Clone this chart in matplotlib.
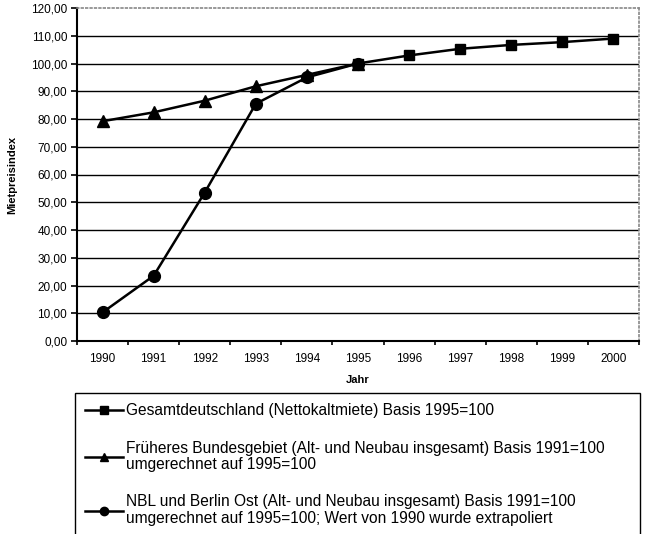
import matplotlib.pyplot as plt
from matplotlib.lines import Line2D

plt.rcParams['font.family'] = ['Liberation Sans', 'DejaVu Sans']

years = ['1990', '1991', '1992', '1993', '1994', '1995', '1996', '1997', '1998', '1999', '2000']

gesamt_years = [5, 6, 7, 8, 9, 10]
gesamt = [100.0, 102.9, 105.3, 106.7, 107.7, 109.0]

west_years = [0, 1, 2, 3, 4, 5]
west = [79.2, 82.4, 86.6, 91.8, 95.9, 100.0]

ost_years = [0, 1, 2, 3, 4, 5]
ost = [10.3, 23.5, 53.5, 85.5, 95.0, 100.0]

labels = ['Gesamtdeutschland (Nettokaltmiete) Basis 1995=100',
          'Früheres Bundesgebiet (Alt- und Neubau insgesamt) Basis 1991=100\numgerechnet auf 1995=100',
          'NBL und Berlin Ost (Alt- und Neubau insgesamt) Basis 1991=100\numgerechnet auf 1995=100; Wert von 1990 wurde extrapoliert']

fig = plt.figure(figsize=(6.45, 5.34), dpi=100)
ax = fig.add_axes([77 / 645, 1 - 341 / 534, 562 / 645, 333 / 534])

ax.plot(gesamt_years, gesamt, color='black', lw=1.8, marker='s', ms=7.5, zorder=4)
ax.plot(west_years, west, color='black', lw=1.8, marker='^', ms=8.5, zorder=3)
ax.plot(ost_years, ost, color='black', lw=1.8, marker='o', ms=8.5, zorder=3)

ax.set_xlim(-0.5, 10.5)
ax.set_ylim(0, 120)
ax.set_yticks(range(0, 121, 10))
ax.set_yticklabels(['{:.2f}'.format(v).replace('.', ',') for v in range(0, 121, 10)],
                   fontsize=8.5)
ax.set_xticks(range(11))
ax.set_xticklabels(years, fontsize=8.5)
ax.set_xticks([i - 0.5 for i in range(12)], minor=True)
ax.tick_params(axis='x', which='major', length=0, pad=9)
ax.tick_params(axis='x', which='minor', length=3, width=1.2, direction='out')
ax.tick_params(axis='y', length=4, width=1.2, direction='out', pad=3)

for v in range(10, 120, 10):
    ax.axhline(v, color='black', lw=1.0, zorder=1)

ax.spines['left'].set_linewidth(1.5)
ax.spines['bottom'].set_linewidth(1.5)
for s in ['top', 'right']:
    ax.spines[s].set_color('#888888')
    ax.spines[s].set_linestyle(':')
    ax.spines[s].set_linewidth(1.2)

ax.set_ylabel('Mietpreisindex', fontsize=8, fontweight='bold', labelpad=10)
ax.set_xlabel('Jahr', fontsize=8, fontweight='bold', labelpad=7)

handles = [Line2D([], [], color='black', lw=1.8, marker='s', ms=6),
           Line2D([], [], color='black', lw=1.8, marker='^', ms=6),
           Line2D([], [], color='black', lw=1.8, marker='o', ms=6)]
leg = fig.legend(handles, labels, loc='upper left',
                 bbox_to_anchor=(75 / 645, 1 - 393 / 534 - 0.1, 565 / 645, 0.1),
                 mode='expand', fontsize=11.2, handlelength=2.45, handletextpad=0.2,
                 labelspacing=1.45, borderpad=0.65, borderaxespad=0,
                 fancybox=False, frameon=True, framealpha=1)
for t in leg.get_texts():
    t.set_linespacing(1.1)
leg.get_frame().set_edgecolor('black')
leg.get_frame().set_linewidth(1.0)

fig.savefig('out.png', dpi=100)
